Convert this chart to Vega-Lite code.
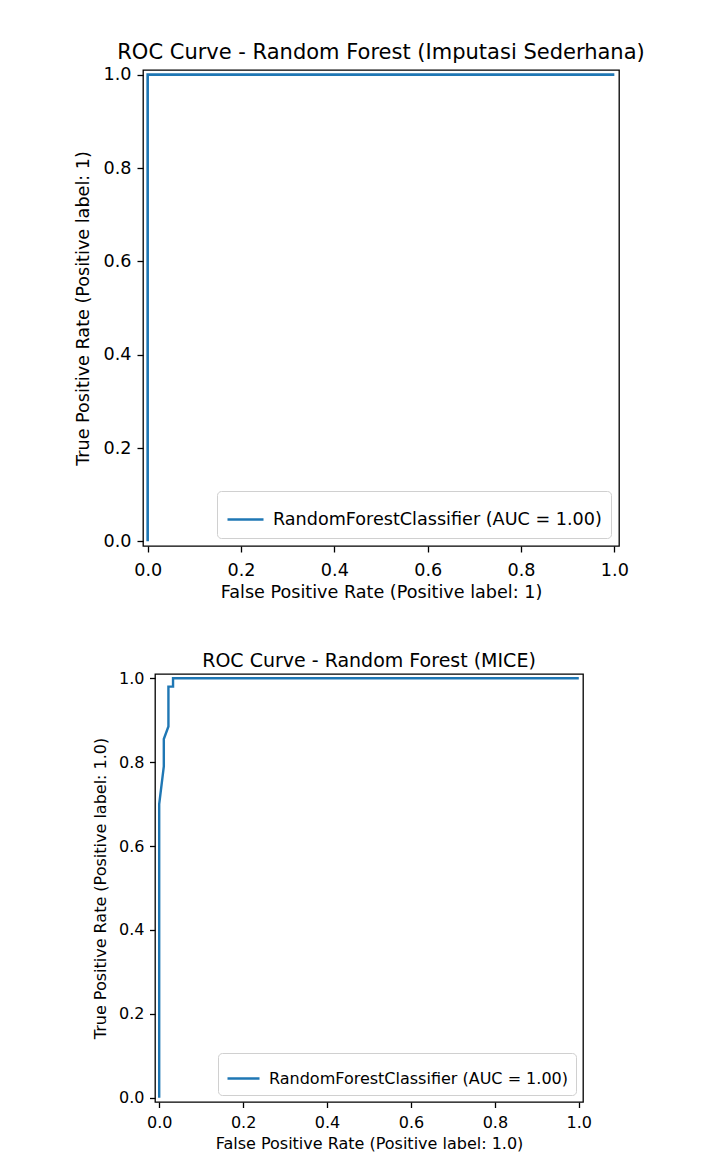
{
  "$schema": "https://vega.github.io/schema/vega-lite/v6.json",
  "background": "white",
  "padding": {"left": 0, "top": 41, "right": 0, "bottom": 0},
  "spacing": 49,
  "resolve": {"scale": {"color": "independent"}, "legend": {"color": "independent"}},
  "config": {
    "font": "DejaVu Sans",
    "view": {"stroke": "#000000", "strokeWidth": 1.3},
    "axis": {
      "grid": false,
      "domain": false,
      "tickColor": "#000000",
      "tickWidth": 1.3,
      "labelColor": "#000000",
      "titleColor": "#000000",
      "titleFontWeight": "normal",
      "labelFont": "DejaVu Sans",
      "titleFont": "DejaVu Sans",
      "labelFlush": false,
      "labelOverlap": false
    },
    "title": {"font": "DejaVu Sans", "fontWeight": "normal", "color": "#000000", "anchor": "middle"},
    "legend": {
      "labelFont": "DejaVu Sans",
      "labelColor": "#000000",
      "labelLimit": 0,
      "strokeColor": "#d0d0d0",
      "fillColor": "rgba(255,255,255,0.85)",
      "cornerRadius": 4,
      "symbolType": "stroke"
    }
  },
  "vconcat": [
    {
      "spacing": 72,
      "resolve": {"scale": {"color": "independent"}, "legend": {"color": "independent"}},
      "hconcat": [
        {
          "width": 1,
          "height": 1,
          "view": {"stroke": null},
          "data": {"values": []},
          "mark": "point",
          "encoding": {}
        },
        {
          "title": {"text": "ROC Curve - Random Forest (Imputasi Sederhana)", "fontSize": 21, "offset": 3},
          "width": 476,
          "height": 476,
          "data": {"values": [
            {"step": 0, "fpr": 0, "tpr": 0, "model": "RandomForestClassifier (AUC = 1.00)"},
            {"step": 1, "fpr": 0, "tpr": 1, "model": "RandomForestClassifier (AUC = 1.00)"},
            {"step": 2, "fpr": 1, "tpr": 1, "model": "RandomForestClassifier (AUC = 1.00)"}
          ]},
          "mark": {"type": "line", "strokeWidth": 2.6},
          "encoding": {
            "x": {"field": "fpr", "type": "quantitative",
              "scale": {"domain": [-0.01, 1.01], "nice": false, "zero": false},
              "axis": {"title": "False Positive Rate (Positive label: 1)", "values": [0, 0.2, 0.4, 0.6, 0.8, 1], "format": ".1f",
                "labelFontSize": 17.6, "titleFontSize": 17.6, "tickSize": 6, "labelPadding": 9, "titlePadding": 5}},
            "y": {"field": "tpr", "type": "quantitative",
              "scale": {"domain": [-0.01, 1.01], "nice": false, "zero": false},
              "axis": {"title": "True Positive Rate (Positive label: 1)", "values": [0, 0.2, 0.4, 0.6, 0.8, 1], "format": ".1f",
                "labelFontSize": 17.6, "titleFontSize": 17.6, "tickSize": 6, "labelPadding": 6, "titlePadding": 11}},
            "order": {"field": "step", "type": "quantitative"},
            "color": {"field": "model", "type": "nominal", "scale": {"range": ["#1f77b4"]},
              "legend": {"title": null, "orient": "bottom-right", "offset": 8, "padding": 9, "labelOffset": 8,
                "labelFontSize": 17.6, "symbolSize": 1296, "symbolStrokeWidth": 2.6}}
          }
        }
      ]
    },
    {
      "spacing": 90,
      "resolve": {"scale": {"color": "independent"}, "legend": {"color": "independent"}},
      "hconcat": [
        {
          "width": 1,
          "height": 1,
          "view": {"stroke": null},
          "data": {"values": []},
          "mark": "point",
          "encoding": {}
        },
        {
          "title": {"text": "ROC Curve - Random Forest (MICE)", "fontSize": 19, "offset": -1},
          "width": 428,
          "height": 428,
          "data": {"values": [
            {"step": 0, "fpr": 0, "tpr": 0, "model": "RandomForestClassifier (AUC = 1.00)"},
            {"step": 1, "fpr": 0, "tpr": 0.70, "model": "RandomForestClassifier (AUC = 1.00)"},
            {"step": 2, "fpr": 0.011, "tpr": 0.79, "model": "RandomForestClassifier (AUC = 1.00)"},
            {"step": 3, "fpr": 0.011, "tpr": 0.855, "model": "RandomForestClassifier (AUC = 1.00)"},
            {"step": 4, "fpr": 0.022, "tpr": 0.885, "model": "RandomForestClassifier (AUC = 1.00)"},
            {"step": 5, "fpr": 0.022, "tpr": 0.98, "model": "RandomForestClassifier (AUC = 1.00)"},
            {"step": 6, "fpr": 0.033, "tpr": 0.98, "model": "RandomForestClassifier (AUC = 1.00)"},
            {"step": 7, "fpr": 0.033, "tpr": 1, "model": "RandomForestClassifier (AUC = 1.00)"},
            {"step": 8, "fpr": 1, "tpr": 1, "model": "RandomForestClassifier (AUC = 1.00)"}
          ]},
          "mark": {"type": "line", "strokeWidth": 2.4},
          "encoding": {
            "x": {"field": "fpr", "type": "quantitative",
              "scale": {"domain": [-0.01, 1.01], "nice": false, "zero": false},
              "axis": {"title": "False Positive Rate (Positive label: 1.0)", "values": [0, 0.2, 0.4, 0.6, 0.8, 1], "format": ".1f",
                "labelFontSize": 16, "titleFontSize": 16, "tickSize": 5.5, "labelPadding": 7, "titlePadding": 5}},
            "y": {"field": "tpr", "type": "quantitative",
              "scale": {"domain": [-0.01, 1.01], "nice": false, "zero": false},
              "axis": {"title": "True Positive Rate (Positive label: 1.0)", "values": [0, 0.2, 0.4, 0.6, 0.8, 1], "format": ".1f",
                "labelFontSize": 16, "titleFontSize": 16, "tickSize": 5.5, "labelPadding": 5.5, "titlePadding": 10.5}},
            "order": {"field": "step", "type": "quantitative"},
            "color": {"field": "model", "type": "nominal", "scale": {"range": ["#1f77b4"]},
              "legend": {"title": null, "orient": "bottom-right", "offset": 7, "padding": 8, "labelOffset": 8,
                "labelFontSize": 16, "symbolSize": 1024, "symbolStrokeWidth": 2.4}}
          }
        }
      ]
    }
  ]
}
